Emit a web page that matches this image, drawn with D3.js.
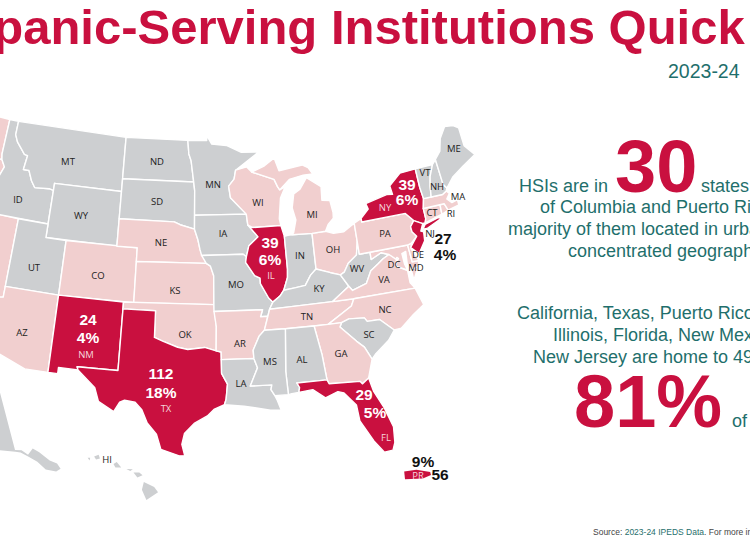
<!DOCTYPE html>
<html><head><meta charset="utf-8">
<script src="https://cdn.jsdelivr.net/npm/d3@7"></script>
<style>html,body{margin:0;padding:0;background:#fff;overflow:hidden}svg{display:block}</style>
</head><body><svg id="c" width="750" height="536"></svg>
<script>
// ---- data: category of each state, HSI counts and shares, outlines in lon/lat ----
const highlighted = ["NM","TX","IL","NY","NJ","FL","CA","PR"];
const present = ["WA","OR","NV","AZ","CO","NE","KS","OK","AR","TN","NC","VA","MD","DC","DE","PA","OH","MI","WI","GA","CT","MA","RI"];
const hsiCounts = {NM:24,TX:112,IL:39,NY:39,NJ:27,FL:29,PR:56};
const hsiShares = {NM:"4%",TX:"18%",IL:"6%",NY:"6%",NJ:"4%",FL:"5%",PR:"9%"};
const outlines = {
WA:[[[-124.7,48.4],[-123,48.3],[-122.8,49],[-117.03,49],[-117.04,46.4],[-116.92,45.99],[-119,45.93],[-120.5,45.7],[-122,45.6],[-122.8,45.7],[-123.4,46.2],[-124,46.25],[-124.1,47]]],
OR:[[[-124,46.25],[-123.4,46.2],[-122.8,45.7],[-122,45.6],[-120.5,45.7],[-119,45.93],[-116.92,45.99],[-116.5,45.5],[-117,44.4],[-117.03,42],[-124.2,42],[-124.5,42.8],[-124,44.5]]],
CA:[[[-124.2,42],[-120,42],[-120,39],[-114.63,35],[-114.13,34.3],[-114.7,32.72],[-117.12,32.53],[-117.3,33],[-118.4,33.75],[-120.6,34.55],[-121.9,36.6],[-122.5,37.8],[-123.8,39.3],[-124.4,40.4]]],
NV:[[[-120,42],[-114.04,42],[-114.05,36.2],[-114.74,36.1],[-114.63,35],[-120,39]]],
ID:[[[-117.03,49],[-116.05,49],[-116.05,48],[-115.7,47.5],[-114.7,46.7],[-114.35,46.65],[-114.5,45.6],[-113.9,45.6],[-113.45,44.9],[-113,44.45],[-111.5,44.55],[-111.05,44.48],[-111.05,42],[-117.03,42],[-117,44.4],[-116.5,45.5],[-116.92,45.99],[-117.04,46.4]]],
MT:[[[-116.05,49],[-104.05,49],[-104.05,45],[-111.05,45],[-111.05,44.48],[-111.5,44.55],[-113,44.45],[-113.45,44.9],[-113.9,45.6],[-114.5,45.6],[-114.35,46.65],[-114.7,46.7],[-115.7,47.5],[-116.05,48]]],
WY:[[[-111.05,45],[-104.05,45],[-104.05,41],[-111.05,41]]],
UT:[[[-114.04,42],[-111.05,42],[-111.05,41],[-109.05,41],[-109.05,37],[-114.05,37]]],
AZ:[[[-114.05,37],[-109.05,37],[-109.05,31.33],[-111.07,31.33],[-114.8,32.5],[-114.7,32.72],[-114.13,34.3],[-114.63,35],[-114.74,36.1],[-114.05,36.2]]],
CO:[[[-109.05,41],[-102.05,41],[-102.05,37],[-109.05,37]]],
NM:[[[-109.05,37],[-103,37],[-103.04,32],[-106.6,32],[-106.5,31.78],[-108.2,31.78],[-108.2,31.33],[-109.05,31.33]]],
ND:[[[-104.05,49],[-97.23,49],[-97.1,48],[-96.85,47.5],[-96.56,45.94],[-104.05,45.94]]],
SD:[[[-104.05,45.94],[-96.56,45.94],[-96.45,45.3],[-96.45,43.5],[-96.45,42.49],[-97.9,42.8],[-98.5,43],[-104.05,43]]],
NE:[[[-104.05,43],[-98.5,43],[-97.9,42.8],[-96.45,42.49],[-96.1,41.7],[-95.9,41],[-95.3,40],[-102.05,40],[-102.05,41],[-104.05,41]]],
KS:[[[-102.05,40],[-95.3,40],[-94.9,39.8],[-94.6,39.1],[-94.62,37],[-102.05,37]]],
OK:[[[-103,37],[-94.62,37],[-94.43,35.4],[-94.48,33.64],[-95.5,33.9],[-97,33.75],[-97.9,33.9],[-99.2,34.3],[-100,34.56],[-100,36.5],[-103,36.5]]],
TX:[[[-103,36.5],[-100,36.5],[-100,34.56],[-99.2,34.3],[-97.9,33.9],[-97,33.75],[-95.5,33.9],[-94.48,33.64],[-94.04,33.55],[-94.04,33],[-94.04,32],[-93.55,31.2],[-93.7,30.1],[-93.85,29.7],[-94.7,29.4],[-95.3,28.9],[-96.4,28.35],[-97.2,27.6],[-97.4,26.8],[-97.15,25.96],[-97.6,25.95],[-99.1,26.4],[-99.5,27.5],[-100.3,28.3],[-100.8,29.25],[-101.4,29.77],[-102.3,29.87],[-102.7,29.7],[-103.15,28.98],[-104.5,29.65],[-104.9,30.6],[-106.5,31.78],[-106.6,32],[-103.04,32]]],
MN:[[[-97.23,49],[-95.15,49],[-95.15,49.38],[-94.6,48.72],[-93,48.6],[-91.4,48.05],[-89.5,48],[-92.1,46.75],[-92.3,46.1],[-92.9,45.6],[-92.75,44.75],[-91.2,43.5],[-96.45,43.5],[-96.45,45.3],[-96.56,45.94],[-96.85,47.5],[-97.1,48]]],
IA:[[[-96.45,43.5],[-91.2,43.5],[-91.1,42.7],[-90.15,41.8],[-91.1,41.2],[-91.4,40.4],[-91.7,40.6],[-95.75,40.58],[-95.9,41],[-96.1,41.7],[-96.45,42.49]]],
MO:[[[-95.75,40.58],[-91.7,40.6],[-91.4,40.4],[-91.5,40],[-90.7,39],[-90.2,38.8],[-90.2,38.4],[-89.5,37.3],[-89.15,37],[-89.5,36.5],[-89.7,36],[-90.37,36],[-90.15,36.5],[-94.62,36.5],[-94.62,37],[-94.6,39.1],[-94.9,39.8],[-95.3,40]]],
AR:[[[-94.62,36.5],[-90.15,36.5],[-90.37,36],[-89.7,36],[-90.1,35],[-90.6,34.6],[-91.2,33.6],[-91.17,33],[-94.04,33],[-94.04,33.55],[-94.48,33.64],[-94.43,35.4]]],
LA:[[[-94.04,33],[-91.17,33],[-90.9,32.3],[-91.6,31],[-89.75,31],[-89.85,30.65],[-89.55,30.2],[-89.4,29.9],[-89.1,29.1],[-90,29.15],[-91.3,29.4],[-92.2,29.55],[-93.85,29.7],[-93.7,30.1],[-93.55,31.2],[-94.04,32]]],
WI:[[[-92.1,46.75],[-90.9,46.95],[-90.4,46.55],[-88.1,45.9],[-87.8,45.35],[-87.6,45.1],[-87,45.3],[-87.6,44.5],[-87.9,43],[-87.8,42.5],[-90.65,42.5],[-91.1,42.7],[-91.2,43.5],[-92.75,44.75],[-92.9,45.6],[-92.3,46.1]]],
IL:[[[-90.65,42.5],[-87.8,42.5],[-87.55,41.7],[-87.53,39.3],[-87.6,38.7],[-88.05,37.8],[-88.45,37.4],[-89.15,37],[-89.5,37.3],[-90.2,38.4],[-90.2,38.8],[-90.7,39],[-91.5,40],[-91.4,40.4],[-91.1,41.2],[-90.15,41.8],[-91.1,42.7]]],
IN:[[[-87.55,41.7],[-87.2,41.75],[-86.8,41.76],[-84.8,41.7],[-84.82,39.1],[-85.4,38.7],[-86,38],[-87,37.9],[-88.05,37.8],[-87.6,38.7],[-87.53,39.3]]],
OH:[[[-84.8,41.7],[-83.45,41.73],[-82.7,41.5],[-81.7,41.5],[-80.52,42],[-80.52,40.64],[-80.8,39.7],[-81.7,39.2],[-82.2,38.6],[-82.6,38.45],[-83.5,38.7],[-84.82,39.1]]],
MI:[[[-86.8,41.76],[-84.8,41.7],[-83.45,41.73],[-83.1,42.2],[-82.5,42.6],[-82.45,43],[-82.6,43.9],[-83.4,44],[-83.3,45],[-84.7,45.78],[-85.5,45],[-86.2,44.7],[-86.5,43.7],[-86.25,42.8],[-86.6,41.9]],[[-90.4,46.55],[-89,46.95],[-87.9,47.47],[-87.5,46.5],[-85,46.75],[-84.4,46.5],[-84,46],[-85,46],[-86.5,45.8],[-87.6,45.1],[-87.8,45.35],[-88.1,45.9]]],
KY:[[[-89.5,36.5],[-89.15,37],[-88.45,37.4],[-88.05,37.8],[-87,37.9],[-86,38],[-85.4,38.7],[-84.82,39.1],[-83.5,38.7],[-82.6,38.45],[-81.97,37.54],[-83.68,36.6],[-88.07,36.55]]],
TN:[[[-90.1,35],[-89.7,36],[-89.5,36.5],[-88.07,36.55],[-83.68,36.6],[-81.68,36.59],[-82,36.1],[-84.32,35],[-88.2,35]]],
WV:[[[-82.6,38.45],[-82.2,38.6],[-81.7,39.2],[-80.8,39.7],[-80.52,40.64],[-80.52,39.72],[-79.48,39.72],[-79.48,39.2],[-78.45,39.55],[-77.72,39.32],[-78.35,39.1],[-78.9,38.8],[-79.7,38.4],[-80.3,37.55],[-81.68,37.2],[-81.97,37.54]]],
VA:[[[-83.68,36.6],[-81.97,37.54],[-81.68,37.2],[-80.3,37.55],[-79.7,38.4],[-78.9,38.8],[-78.35,39.1],[-77.72,39.32],[-77.1,38.9],[-77.3,38.4],[-76.3,37.9],[-76.3,37],[-75.95,36.55],[-81.68,36.59]],[[-75.95,37.95],[-75.25,38.03],[-75.9,37.15]]],
MD:[[[-79.48,39.72],[-75.79,39.72],[-75.7,38.46],[-75.05,38.45],[-75.25,38.03],[-75.95,37.95],[-76.2,38.4],[-76.1,39.3],[-76.5,39.2],[-76.45,38.4],[-76.3,37.95],[-77.3,38.4],[-77.05,38.8],[-77.72,39.32],[-78.45,39.55],[-79.48,39.2]]],
DE:[[[-75.79,39.72],[-75.4,39.8],[-75.55,39.4],[-75.05,38.45],[-75.7,38.46]]],
DC:[[[-77.12,38.93],[-77.04,39],[-76.91,38.89],[-77.04,38.79]]],
PA:[[[-80.52,42],[-79.76,42.27],[-79.76,42],[-75.35,42],[-74.7,41.36],[-75.13,40.97],[-75.1,40.6],[-74.75,40.2],[-75.4,39.8],[-75.79,39.72],[-80.52,39.72]]],
NY:[[[-79.76,42],[-79.76,42.27],[-78.9,42.85],[-79.05,43.27],[-76.8,43.63],[-76.2,43.55],[-76.3,44.2],[-75,44.95],[-73.35,45],[-73.35,43.6],[-73.25,42.75],[-73.5,42.05],[-73.5,41.3],[-73.65,41],[-73.9,41],[-74.7,41.36],[-75.35,42]],[[-74,40.6],[-73.7,40.9],[-72.3,41.15],[-72,41.05],[-73.6,40.58]]],
NJ:[[[-74.7,41.36],[-73.9,41],[-74.25,40.5],[-74,40.4],[-74.1,39.75],[-74.9,38.93],[-75.55,39.5],[-74.75,40.2],[-75.1,40.6],[-75.13,40.97]]],
CT:[[[-73.5,42.05],[-71.8,42.02],[-71.85,41.32],[-73.65,41],[-73.5,41.3]]],
RI:[[[-71.8,42.02],[-71.38,42.02],[-71.15,41.5],[-71.85,41.32]]],
MA:[[[-73.5,42.05],[-73.25,42.75],[-71.3,42.7],[-70.85,42.88],[-70.6,42.65],[-71,42.3],[-70.6,41.95],[-70,42.05],[-70,41.65],[-71.15,41.5],[-71.38,42.02]]],
VT:[[[-73.35,45],[-71.5,45],[-72.05,44.2],[-72.3,43.5],[-72.46,42.73],[-73.25,42.75],[-73.35,43.6]]],
NH:[[[-71.5,45.01],[-71.08,45.3],[-70.98,43.4],[-70.7,43.07],[-70.85,42.88],[-71.3,42.7],[-72.46,42.73],[-72.3,43.5],[-72.05,44.2]]],
ME:[[[-71.08,45.3],[-70.4,45.8],[-70,46.7],[-69.2,47.45],[-68.3,47.35],[-67.8,47.07],[-67.8,45.7],[-67,44.85],[-68.5,44.3],[-69.8,43.75],[-70.7,43.07],[-70.98,43.4]]],
NC:[[[-84.32,35],[-82,36.1],[-81.68,36.59],[-75.95,36.55],[-75.5,35.25],[-76.6,34.7],[-77.9,33.9],[-78.55,33.86],[-79.67,34.8],[-80.8,34.82],[-81,35.1],[-82.4,35.2],[-83.1,35]]],
SC:[[[-83.1,35],[-82.4,35.2],[-81,35.1],[-80.8,34.82],[-79.67,34.8],[-78.55,33.86],[-79.2,33.2],[-80.5,32.4],[-80.9,32.05],[-81.4,33],[-82,33.5],[-83.3,34.7]]],
GA:[[[-85.6,35],[-84.32,35],[-83.1,35],[-83.3,34.7],[-82,33.5],[-81.4,33],[-80.9,32.05],[-81.45,30.72],[-82.05,30.37],[-82.2,30.57],[-84.86,30.7],[-85,31],[-85.18,32.87]]],
AL:[[[-88.2,35],[-85.6,35],[-85.18,32.87],[-85,31],[-87.6,31],[-87.4,30.65],[-87.5,30.3],[-88.1,30.25],[-88.4,30.2],[-88.47,31.9]]],
MS:[[[-90.1,35],[-88.2,35],[-88.47,31.9],[-88.4,30.2],[-89.55,30.2],[-89.85,30.65],[-89.75,31],[-91.6,31],[-90.9,32.3],[-91.17,33],[-91.2,33.6],[-90.6,34.6]]],
FL:[[[-87.6,31],[-85,31],[-84.86,30.7],[-82.2,30.57],[-82.05,30.37],[-81.45,30.72],[-81.2,29.7],[-80.55,28.4],[-80.05,26.9],[-80.15,25.75],[-80.4,25.2],[-81.1,25.15],[-81.8,26.1],[-82.7,27.7],[-82.8,28.9],[-83.7,29.9],[-84.2,30.05],[-85.3,29.7],[-86.3,30.4],[-87.5,30.3],[-87.4,30.65]]]
};
const alaskaOutline = [[[-141,69.65],[-156.5,71.3],[-166,68.5],[-162,66.5],[-168,65.6],[-161,64.5],[-165,62.5],[-162,59],[-158,58.7],[-163,55],[-155,57.5],[-152,59.2],[-149,60],[-146,60.8],[-141,60],[-139.5,59.7],[-137.5,58.7],[-135.5,57.5],[-134,55.9],[-131.5,55],[-130.1,55.1],[-130.4,56.1],[-132,57],[-134,58.8],[-135.5,59.7],[-137.5,59],[-139,60],[-141,60.3]]];
const hawaiiOutline = [[[-155.9,20.25],[-155.1,19.9],[-154.8,19.5],[-155.7,18.95],[-156.05,19.7]],[[-156.7,20.95],[-156.25,20.95],[-156,20.75],[-156.4,20.58]],[[-157.25,21.2],[-156.75,21.17],[-156.95,21.05]],[[-158.25,21.55],[-158,21.7],[-157.65,21.3],[-158.1,21.3]],[[-159.75,22.1],[-159.4,22.22],[-159.3,21.95],[-159.6,21.88]],[[-160.25,22],[-160.05,22],[-160.1,21.8]]];
const prOutline = [[[-67.25,18.4],[-66.5,18.5],[-65.65,18.38],[-65.6,18.2],[-66.1,18],[-67.2,17.95]]];

const titleText = "Hispanic-Serving Institutions Quick Facts";
const yearText = "2023-24";
const statesLine = ["HSIs are in","30","states"];
const statesRest = ["of Columbia and Puerto Rico","majority of them located in urban","concentrated geographic"];
const homeLines = ["California, Texas, Puerto Rico","Illinois, Florida, New Mexico","New Jersey are home to 49"];
const bigShare = "81%";

// ---- drawing ----
const RED="#C9103F", PINK="#F1CFCF", GRAY="#CDCFD1", TEAL="#1F6F6C", SANS="'Liberation Sans',Arial,sans-serif", LABEL="'Open Sans',sans-serif";
const svg=d3.select("#c");
const main=d3.geoConicEqualArea().parallels([29.5,45.5]).rotate([96,0]).center([0,38]).scale(782).translate([199,291]);
const ak=d3.geoConicEqualArea().parallels([55,65]).rotate([158,0]).center([17,60.3]).scale(363).translate([15,450]);
const hi=d3.geoMercator().center([-155.5,19.6]).scale(740).translate([149,491]);
const pr=d3.geoMercator().center([-66.4,18.2]).scale(930).translate([418,475]);
const fillOf=k=>highlighted.includes(k)?RED:present.includes(k)?PINK:GRAY;
const closeRing=r=>{const c=r.concat([r[0]]);return d3.geoArea({type:"Polygon",coordinates:[c]})>2*Math.PI?c.slice().reverse():c;};
const asFeature=p=>({type:"Feature",geometry:{type:"MultiPolygon",coordinates:p.map(r=>[closeRing(r)])}});
const gm=svg.append("g");
gm.selectAll("path.state").data(Object.entries(outlines)).join("path").attr("class","state")
  .attr("d",d=>d3.geoPath(main)(asFeature(d[1]))).attr("fill",d=>fillOf(d[0]))
  .attr("stroke","#fff").attr("stroke-width",1.4).attr("stroke-linejoin","round");
[[alaskaOutline,ak,"AK"],[hawaiiOutline,hi,"HI"],[prOutline,pr,"PR"]].forEach(([o,p,k])=>{
  gm.append("path").attr("d",d3.geoPath(p)(asFeature(o))).attr("fill",fillOf(k));
});
// state labels
const labelPos={MT:[68,161],ND:[157,161],MN:[213,184],ID:[18,199],SD:[157,201],WY:[81,215],NE:[161,242],IA:[223,233],UT:[34,267],CO:[98,275],KS:[175,290],MO:[236,284],AZ:[22,332],OK:[185,334],AR:[240,343],LA:[241,383],MS:[270,361],AL:[302,359],GA:[341,353],SC:[369,334],TN:[307,316],NC:[385,309],KY:[319,288],WV:[357,268],VA:[384,279],DC:[394,264],MD:[416,267],DE:[418,254],NJ:[430,233],PA:[385,233],OH:[333,249],IN:[300,255],WI:[258,202],MI:[312,214],CT:[432,212],RI:[451,213],MA:[458,196],NH:[437,186],VT:[425,172],ME:[454,148],HI:[107,459]};
const whiteLabelPos={NM:[86,354],TX:[166,408],IL:[271,275],NY:[385,207],FL:[386,437],PR:[418,475]};
const t=(x,y,s,o={})=>svg.append("text").attr("x",x).attr("y",y).text(s).attr("font-family",o.f||SANS).attr("font-size",o.s||18).attr("font-weight",o.w||400).attr("fill",o.c||TEAL).attr("text-anchor",o.a||"start").attr("dominant-baseline",o.b||"auto");
Object.entries(labelPos).forEach(([k,p])=>t(p[0],p[1],k,{f:LABEL,s:9.5,c:"#222",a:"middle",b:"central"}));
Object.entries(whiteLabelPos).forEach(([k,p])=>t(p[0],p[1],k,{f:LABEL,s:9.5,c:"#f6d5dc",a:"middle",b:"central"}));
// counts
const countPos={NM:[[88,319],[88,337]],TX:[[161,373],[161,392]],IL:[[270,242],[270,259]],NY:[[407,184],[407,199]],FL:[[364,394],[375,412]],NJ:[[443,238],[445,254]],PR:[[440,474],[423,461]]};
Object.entries(countPos).forEach(([k,[a,b]])=>{
  const c=(k==="NJ"||k==="PR")?"#111":"#fff";
  t(a[0],a[1],hsiCounts[k],{s:15.5,w:700,c,a:"middle",b:"central"});
  t(b[0],b[1],hsiShares[k],{s:15.5,w:700,c,a:"middle",b:"central"});
});
// headings
t(-83,44,titleText,{s:49,w:700,c:RED});
t(668,78,yearText,{s:19.5});
t(519,192,statesLine[0]);
t(615,192,statesLine[1],{s:74,w:700,c:RED});
t(701,192,statesLine[2]);
[[540,213],[508,235],[568,257]].forEach((p,i)=>t(p[0],p[1],statesRest[i]));
[[517,319],[553,341],[533,363]].forEach((p,i)=>t(p[0],p[1],homeLines[i]));
t(574,427,bigShare,{s:74,w:700,c:RED});
t(732,427,"of");
const src=t(593,535,"Source: ",{s:8.5,c:"#444"});
src.append("tspan").text("2023-24 IPEDS Data").attr("fill",TEAL);
src.append("tspan").text(". For more in");
</script></body></html>
